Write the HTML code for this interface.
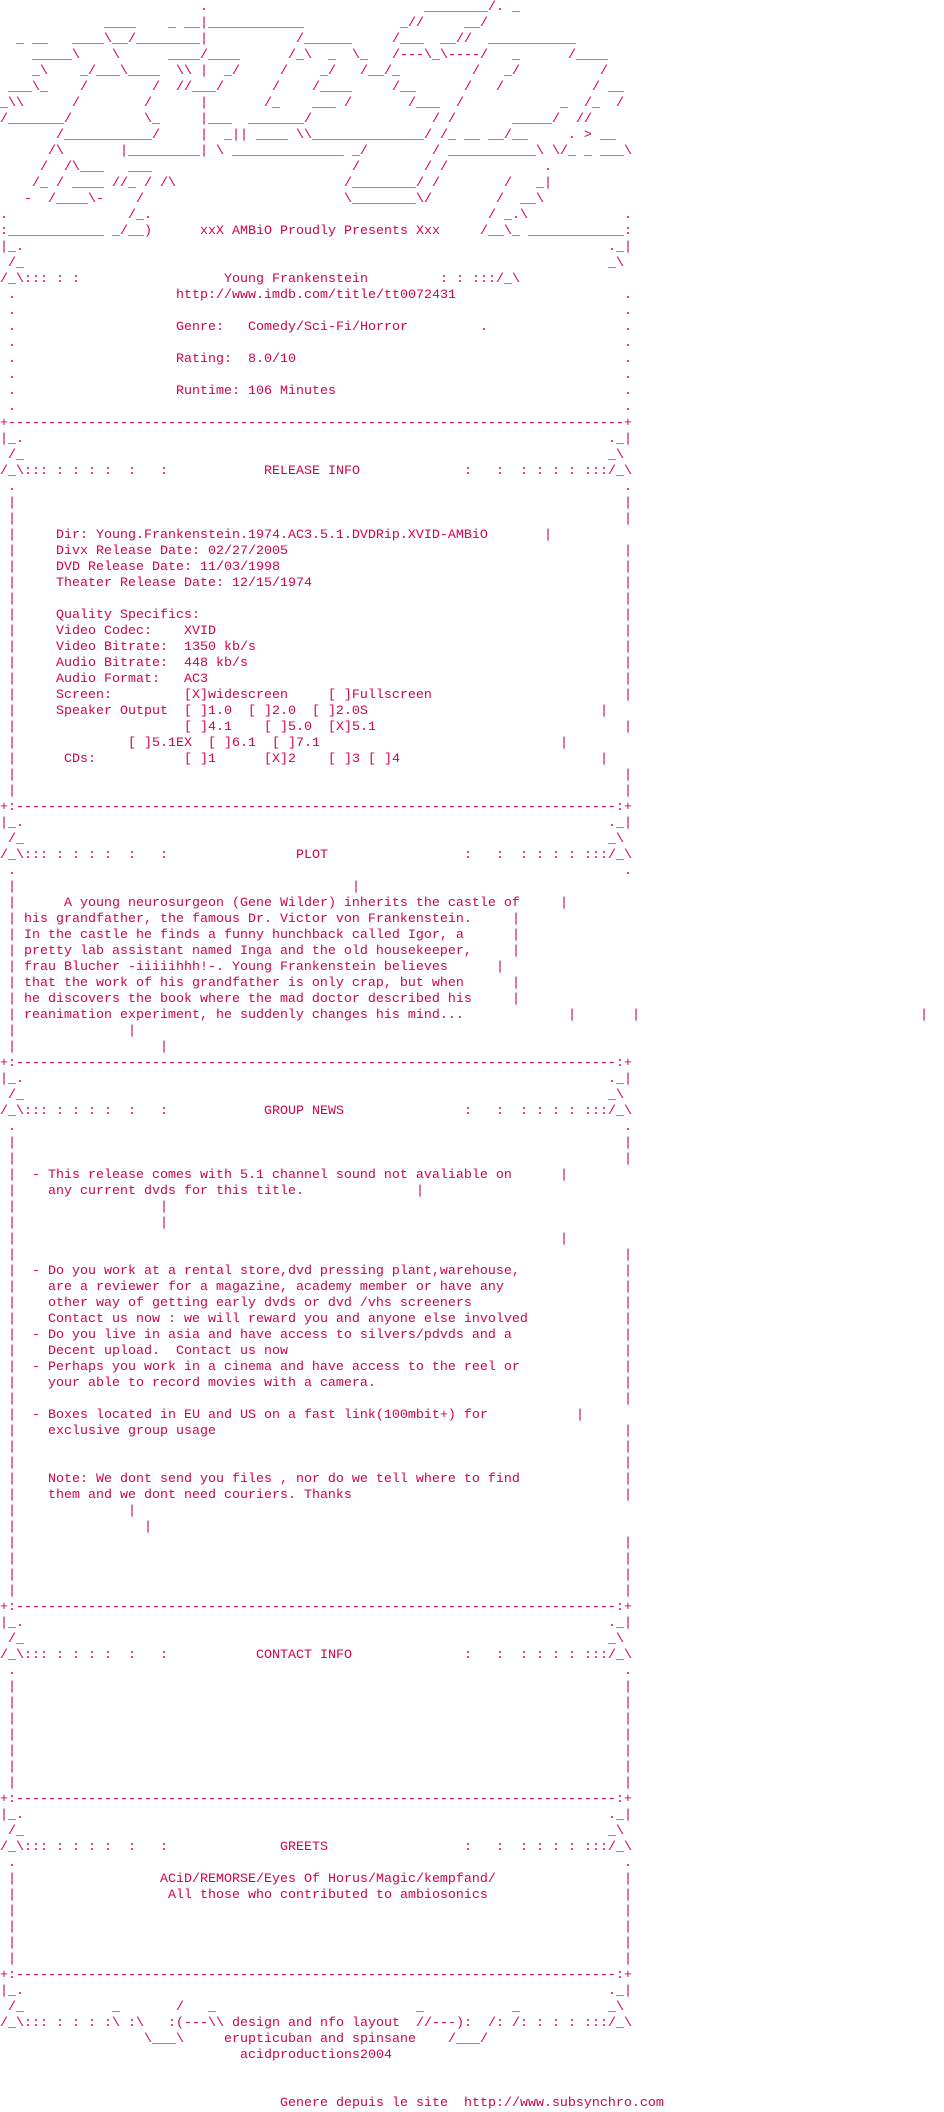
<!DOCTYPE html>
<html><head><meta charset="utf-8"><style>
html,body{margin:0;padding:0;background:#fff;}
body{width:944px;height:2112px;position:relative;overflow:hidden;font-family:"Liberation Mono",monospace;font-size:13.333px;line-height:16px;color:#d4004f;}
i{position:absolute;white-space:pre;font-style:normal;height:16px;}
</style></head><body>
<!-- logo -->
<i style="top:0px;left:200px">.</i><i style="top:0px;left:424px">________/. _</i>
<i style="top:16px;left:104px">____</i><i style="top:16px;left:168px">_ __|____________</i><i style="top:16px;left:400px">_//</i><i style="top:16px;left:464px">__/</i>
<i style="top:32px;left:16px">_ __</i><i style="top:32px;left:72px">____\__/________|</i><i style="top:32px;left:296px">/______</i><i style="top:32px;left:392px">/___  __//</i><i style="top:32px;left:488px">___________</i>
<i style="top:48px;left:32px">_____\    \</i><i style="top:48px;left:168px">____/____</i><i style="top:48px;left:288px">/_\  _  \_</i><i style="top:48px;left:392px">/---\_\----/</i><i style="top:48px;left:512px">_</i><i style="top:48px;left:568px">/____</i>
<i style="top:64px;left:32px">_\    _/___\____  \\ |  _/</i><i style="top:64px;left:280px">/    _/   /__/_</i><i style="top:64px;left:472px">/   _/</i><i style="top:64px;left:600px">/</i>
<i style="top:80px;left:8px">___\_    /        /  //___/</i><i style="top:80px;left:272px">/    /____</i><i style="top:80px;left:392px">/__</i><i style="top:80px;left:464px">/   /</i><i style="top:80px;left:592px">/ __</i>
<i style="top:96px;left:0px">_\\</i><i style="top:96px;left:72px">/</i><i style="top:96px;left:144px">/</i><i style="top:96px;left:200px">|</i><i style="top:96px;left:264px">/_</i><i style="top:96px;left:312px">___ /</i><i style="top:96px;left:408px">/___</i><i style="top:96px;left:456px">/</i><i style="top:96px;left:560px">_  /_  /</i>
<i style="top:112px;left:0px">/_______/</i><i style="top:112px;left:144px">\_</i><i style="top:112px;left:200px">|___  _______/</i><i style="top:112px;left:432px">/ /</i><i style="top:112px;left:512px">_____/  //</i>
<i style="top:128px;left:56px">/___________/</i><i style="top:128px;left:200px">|  _|| ____ \\______________/ /_ __ __/__     . > __</i>
<i style="top:144px;left:48px">/\       |_________| \ ______________ _/</i><i style="top:144px;left:432px">/ ___________\ \/_ _ ___\</i>
<i style="top:160px;left:40px">/  /\___   ___</i><i style="top:160px;left:352px">/        / /</i><i style="top:160px;left:544px">.</i>
<i style="top:176px;left:32px">/_ / ____ //_ / /\</i><i style="top:176px;left:344px">/________/ /</i><i style="top:176px;left:504px">/   _|</i>
<i style="top:192px;left:24px">-  /____\-    /</i><i style="top:192px;left:344px">\________\/</i><i style="top:192px;left:496px">/  __\</i>
<i style="top:208px;left:0px">.</i><i style="top:208px;left:128px">/_.</i><i style="top:208px;left:488px">/ _.\</i><i style="top:208px;left:624px">.</i>
<i style="top:224px;left:0px">:____________ _/__)</i><i style="top:224px;left:200px">xxX AMBiO Proudly Presents Xxx</i><i style="top:224px;left:480px">/__\_ ____________:</i>
<i style="top:240px;left:0px">|_.</i><i style="top:240px;left:608px">._|</i>
<i style="top:256px;left:8px">/_</i><i style="top:256px;left:608px">_\</i>
<i style="top:272px;left:0px">/_\::: : :</i><i style="top:272px;left:224px">Young Frankenstein</i><i style="top:272px;left:440px">: : :::/_\</i>
<i style="top:288px;left:8px">.</i><i style="top:288px;left:176px">http://www.imdb.com/title/tt0072431</i><i style="top:288px;left:624px">.</i>
<i style="top:304px;left:8px">.</i><i style="top:304px;left:624px">.</i>
<i style="top:320px;left:8px">.</i><i style="top:320px;left:176px">Genre:   Comedy/Sci-Fi/Horror</i><i style="top:320px;left:480px">.</i><i style="top:320px;left:624px">.</i>
<i style="top:336px;left:8px">.</i><i style="top:336px;left:624px">.</i>
<i style="top:352px;left:8px">.</i><i style="top:352px;left:176px">Rating:  8.0/10</i><i style="top:352px;left:624px">.</i>
<i style="top:368px;left:8px">.</i><i style="top:368px;left:624px">.</i>
<i style="top:384px;left:8px">.</i><i style="top:384px;left:176px">Runtime: 106 Minutes</i><i style="top:384px;left:624px">.</i>
<i style="top:400px;left:8px">.</i><i style="top:400px;left:624px">.</i>
<!-- RELEASE INFO -->
<i style="top:416px;left:0px">+-----------------------------------------------------------------------------+</i>
<i style="top:432px;left:0px">|_.</i><i style="top:432px;left:608px">._|</i>
<i style="top:448px;left:8px">/_</i><i style="top:448px;left:608px">_\</i>
<i style="top:464px;left:0px">/_\::: : : : :  :   :</i><i style="top:464px;left:264px">RELEASE INFO</i><i style="top:464px;left:464px">:   :  : : : : :::/_\</i>
<i style="top:480px;left:8px">.</i><i style="top:480px;left:624px">.</i>
<i style="top:496px;left:8px">|</i><i style="top:496px;left:624px">|</i>
<i style="top:512px;left:8px">|</i><i style="top:512px;left:624px">|</i>
<i style="top:528px;left:8px">|</i><i style="top:528px;left:56px">Dir: Young.Frankenstein.1974.AC3.5.1.DVDRip.XVID-AMBiO</i><i style="top:528px;left:544px">|</i>
<i style="top:544px;left:8px">|</i><i style="top:544px;left:56px">Divx Release Date: 02/27/2005</i><i style="top:544px;left:624px">|</i>
<i style="top:560px;left:8px">|</i><i style="top:560px;left:56px">DVD Release Date: 11/03/1998</i><i style="top:560px;left:624px">|</i>
<i style="top:576px;left:8px">|</i><i style="top:576px;left:56px">Theater Release Date: 12/15/1974</i><i style="top:576px;left:624px">|</i>
<i style="top:592px;left:8px">|</i><i style="top:592px;left:624px">|</i>
<i style="top:608px;left:8px">|</i><i style="top:608px;left:56px">Quality Specifics:</i><i style="top:608px;left:624px">|</i>
<i style="top:624px;left:8px">|</i><i style="top:624px;left:56px">Video Codec:    XVID</i><i style="top:624px;left:624px">|</i>
<i style="top:640px;left:8px">|</i><i style="top:640px;left:56px">Video Bitrate:  1350 kb/s</i><i style="top:640px;left:624px">|</i>
<i style="top:656px;left:8px">|</i><i style="top:656px;left:56px">Audio Bitrate:  448 kb/s</i><i style="top:656px;left:624px">|</i>
<i style="top:672px;left:8px">|</i><i style="top:672px;left:56px">Audio Format:   AC3</i><i style="top:672px;left:624px">|</i>
<i style="top:688px;left:8px">|</i><i style="top:688px;left:56px">Screen:         [X]widescreen     [ ]Fullscreen</i><i style="top:688px;left:624px">|</i>
<i style="top:704px;left:8px">|</i><i style="top:704px;left:56px">Speaker Output  [ ]1.0  [ ]2.0  [ ]2.0S</i><i style="top:704px;left:600px">|</i>
<i style="top:720px;left:8px">|</i><i style="top:720px;left:184px">[ ]4.1    [ ]5.0  [X]5.1</i><i style="top:720px;left:624px">|</i>
<i style="top:736px;left:8px">|</i><i style="top:736px;left:128px">[ ]5.1EX  [ ]6.1  [ ]7.1</i><i style="top:736px;left:560px">|</i>
<i style="top:752px;left:8px">|</i><i style="top:752px;left:64px">CDs:</i><i style="top:752px;left:184px">[ ]1      [X]2    [ ]3 [ ]4</i><i style="top:752px;left:600px">|</i>
<i style="top:768px;left:8px">|</i><i style="top:768px;left:624px">|</i>
<i style="top:784px;left:8px">|</i><i style="top:784px;left:624px">|</i>
<!-- PLOT -->
<i style="top:800px;left:0px">+:---------------------------------------------------------------------------:+</i>
<i style="top:816px;left:0px">|_.</i><i style="top:816px;left:608px">._|</i>
<i style="top:832px;left:8px">/_</i><i style="top:832px;left:608px">_\</i>
<i style="top:848px;left:0px">/_\::: : : : :  :   :</i><i style="top:848px;left:296px">PLOT</i><i style="top:848px;left:464px">:   :  : : : : :::/_\</i>
<i style="top:864px;left:8px">.</i><i style="top:864px;left:624px">.</i>
<i style="top:880px;left:8px">|</i><i style="top:880px;left:352px">|</i>
<i style="top:896px;left:8px">|</i><i style="top:896px;left:64px">A young neurosurgeon (Gene Wilder) inherits the castle of</i><i style="top:896px;left:560px">|</i>
<i style="top:912px;left:8px">| his grandfather, the famous Dr. Victor von Frankenstein.</i><i style="top:912px;left:512px">|</i>
<i style="top:928px;left:8px">| In the castle he finds a funny hunchback called Igor, a</i><i style="top:928px;left:512px">|</i>
<i style="top:944px;left:8px">| pretty lab assistant named Inga and the old housekeeper,</i><i style="top:944px;left:512px">|</i>
<i style="top:960px;left:8px">| frau Blucher -iiiiihhh!-. Young Frankenstein believes</i><i style="top:960px;left:496px">|</i>
<i style="top:976px;left:8px">| that the work of his grandfather is only crap, but when</i><i style="top:976px;left:512px">|</i>
<i style="top:992px;left:8px">| he discovers the book where the mad doctor described his</i><i style="top:992px;left:512px">|</i>
<i style="top:1008px;left:8px">| reanimation experiment, he suddenly changes his mind...</i><i style="top:1008px;left:568px">|</i><i style="top:1008px;left:632px">|</i><i style="top:1008px;left:920px">|</i>
<i style="top:1024px;left:8px">|</i><i style="top:1024px;left:128px">|</i>
<i style="top:1040px;left:8px">|</i><i style="top:1040px;left:160px">|</i>
<!-- GROUP NEWS -->
<i style="top:1056px;left:0px">+:---------------------------------------------------------------------------:+</i>
<i style="top:1072px;left:0px">|_.</i><i style="top:1072px;left:608px">._|</i>
<i style="top:1088px;left:8px">/_</i><i style="top:1088px;left:608px">_\</i>
<i style="top:1104px;left:0px">/_\::: : : : :  :   :</i><i style="top:1104px;left:264px">GROUP NEWS</i><i style="top:1104px;left:464px">:   :  : : : : :::/_\</i>
<i style="top:1120px;left:8px">.</i><i style="top:1120px;left:624px">.</i>
<i style="top:1136px;left:8px">|</i><i style="top:1136px;left:624px">|</i>
<i style="top:1152px;left:8px">|</i><i style="top:1152px;left:624px">|</i>
<i style="top:1168px;left:8px">|</i><i style="top:1168px;left:32px">- This release comes with 5.1 channel sound not avaliable on</i><i style="top:1168px;left:560px">|</i>
<i style="top:1184px;left:8px">|</i><i style="top:1184px;left:48px">any current dvds for this title.</i><i style="top:1184px;left:416px">|</i>
<i style="top:1200px;left:8px">|</i><i style="top:1200px;left:160px">|</i>
<i style="top:1216px;left:8px">|</i><i style="top:1216px;left:160px">|</i>
<i style="top:1232px;left:8px">|</i><i style="top:1232px;left:560px">|</i>
<i style="top:1248px;left:8px">|</i><i style="top:1248px;left:624px">|</i>
<i style="top:1264px;left:8px">|</i><i style="top:1264px;left:32px">- Do you work at a rental store,dvd pressing plant,warehouse,</i><i style="top:1264px;left:624px">|</i>
<i style="top:1280px;left:8px">|</i><i style="top:1280px;left:48px">are a reviewer for a magazine, academy member or have any</i><i style="top:1280px;left:624px">|</i>
<i style="top:1296px;left:8px">|</i><i style="top:1296px;left:48px">other way of getting early dvds or dvd /vhs screeners</i><i style="top:1296px;left:624px">|</i>
<i style="top:1312px;left:8px">|</i><i style="top:1312px;left:48px">Contact us now : we will reward you and anyone else involved</i><i style="top:1312px;left:624px">|</i>
<i style="top:1328px;left:8px">|</i><i style="top:1328px;left:32px">- Do you live in asia and have access to silvers/pdvds and a</i><i style="top:1328px;left:624px">|</i>
<i style="top:1344px;left:8px">|</i><i style="top:1344px;left:48px">Decent upload.  Contact us now</i><i style="top:1344px;left:624px">|</i>
<i style="top:1360px;left:8px">|</i><i style="top:1360px;left:32px">- Perhaps you work in a cinema and have access to the reel or</i><i style="top:1360px;left:624px">|</i>
<i style="top:1376px;left:8px">|</i><i style="top:1376px;left:48px">your able to record movies with a camera.</i><i style="top:1376px;left:624px">|</i>
<i style="top:1392px;left:8px">|</i><i style="top:1392px;left:624px">|</i>
<i style="top:1408px;left:8px">|</i><i style="top:1408px;left:32px">- Boxes located in EU and US on a fast link(100mbit+) for</i><i style="top:1408px;left:576px">|</i>
<i style="top:1424px;left:8px">|</i><i style="top:1424px;left:48px">exclusive group usage</i><i style="top:1424px;left:624px">|</i>
<i style="top:1440px;left:8px">|</i><i style="top:1440px;left:624px">|</i>
<i style="top:1456px;left:8px">|</i><i style="top:1456px;left:624px">|</i>
<i style="top:1472px;left:8px">|</i><i style="top:1472px;left:48px">Note: We dont send you files , nor do we tell where to find</i><i style="top:1472px;left:624px">|</i>
<i style="top:1488px;left:8px">|</i><i style="top:1488px;left:48px">them and we dont need couriers. Thanks</i><i style="top:1488px;left:624px">|</i>
<i style="top:1504px;left:8px">|</i><i style="top:1504px;left:128px">|</i>
<i style="top:1520px;left:8px">|</i><i style="top:1520px;left:144px">|</i>
<i style="top:1536px;left:8px">|</i><i style="top:1536px;left:624px">|</i>
<i style="top:1552px;left:8px">|</i><i style="top:1552px;left:624px">|</i>
<i style="top:1568px;left:8px">|</i><i style="top:1568px;left:624px">|</i>
<i style="top:1584px;left:8px">|</i><i style="top:1584px;left:624px">|</i>
<!-- CONTACT INFO -->
<i style="top:1600px;left:0px">+:---------------------------------------------------------------------------:+</i>
<i style="top:1616px;left:0px">|_.</i><i style="top:1616px;left:608px">._|</i>
<i style="top:1632px;left:8px">/_</i><i style="top:1632px;left:608px">_\</i>
<i style="top:1648px;left:0px">/_\::: : : : :  :   :</i><i style="top:1648px;left:256px">CONTACT INFO</i><i style="top:1648px;left:464px">:   :  : : : : :::/_\</i>
<i style="top:1664px;left:8px">.</i><i style="top:1664px;left:624px">.</i>
<i style="top:1680px;left:8px">|</i><i style="top:1680px;left:624px">|</i>
<i style="top:1696px;left:8px">|</i><i style="top:1696px;left:624px">|</i>
<i style="top:1712px;left:8px">|</i><i style="top:1712px;left:624px">|</i>
<i style="top:1728px;left:8px">|</i><i style="top:1728px;left:624px">|</i>
<i style="top:1744px;left:8px">|</i><i style="top:1744px;left:624px">|</i>
<i style="top:1760px;left:8px">|</i><i style="top:1760px;left:624px">|</i>
<i style="top:1776px;left:8px">|</i><i style="top:1776px;left:624px">|</i>
<!-- GREETS -->
<i style="top:1792px;left:0px">+:---------------------------------------------------------------------------:+</i>
<i style="top:1808px;left:0px">|_.</i><i style="top:1808px;left:608px">._|</i>
<i style="top:1824px;left:8px">/_</i><i style="top:1824px;left:608px">_\</i>
<i style="top:1840px;left:0px">/_\::: : : : :  :   :</i><i style="top:1840px;left:280px">GREETS</i><i style="top:1840px;left:464px">:   :  : : : : :::/_\</i>
<i style="top:1856px;left:8px">.</i><i style="top:1856px;left:624px">.</i>
<i style="top:1872px;left:8px">|</i><i style="top:1872px;left:160px">ACiD/REMORSE/Eyes Of Horus/Magic/kempfand/</i><i style="top:1872px;left:624px">|</i>
<i style="top:1888px;left:8px">|</i><i style="top:1888px;left:168px">All those who contributed to ambiosonics</i><i style="top:1888px;left:624px">|</i>
<i style="top:1904px;left:8px">|</i><i style="top:1904px;left:624px">|</i>
<i style="top:1920px;left:8px">|</i><i style="top:1920px;left:624px">|</i>
<i style="top:1936px;left:8px">|</i><i style="top:1936px;left:624px">|</i>
<i style="top:1952px;left:8px">|</i><i style="top:1952px;left:624px">|</i>
<!-- footer -->
<i style="top:1968px;left:0px">+:---------------------------------------------------------------------------:+</i>
<i style="top:1984px;left:0px">|_.</i><i style="top:1984px;left:608px">._|</i>
<i style="top:2000px;left:8px">/_</i><i style="top:2000px;left:112px">_</i><i style="top:2000px;left:176px">/</i><i style="top:2000px;left:208px">_</i><i style="top:2000px;left:416px">_</i><i style="top:2000px;left:512px">_</i><i style="top:2000px;left:608px">_\</i>
<i style="top:2016px;left:0px">/_\::: : : : :\ :\   :(---\\</i><i style="top:2016px;left:232px">design and nfo layout</i><i style="top:2016px;left:416px">//---):  /: /: : : : :::/_\</i>
<i style="top:2032px;left:144px">\___\</i><i style="top:2032px;left:224px">erupticuban and spinsane</i><i style="top:2032px;left:448px">/___/</i>
<i style="top:2048px;left:240px">acidproductions2004</i>
<i style="top:2096px;left:280px">Genere depuis le site  http://www.subsynchro.com</i>
</body></html>
